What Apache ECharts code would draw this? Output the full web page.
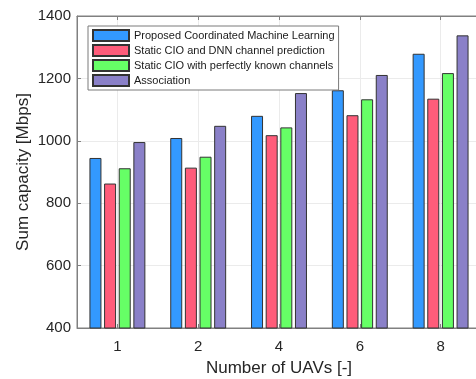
<!DOCTYPE html>
<html>
<head>
<meta charset="utf-8">
<script src="https://cdn.jsdelivr.net/npm/echarts@6/dist/echarts.min.js"></script>
<style>html,body{margin:0;padding:0;background:#fff;}#c{width:476px;height:379px;}</style>
</head>
<body>
<div id="c"></div>
<script>
const categories = ['1', '2', '4', '6', '8'];
const seriesNames = [
  'Proposed Coordinated Machine Learning',
  'Static CIO and DNN channel prediction',
  'Static CIO with perfectly known channels',
  'Association'
];
const proposed = [945, 1009, 1080, 1162, 1279];
const staticDNN = [863, 914, 1018, 1082, 1135];
const staticPerfect = [912, 949, 1043, 1133, 1217];
const association = [996, 1048, 1153, 1211, 1338];
const yTicks = [400, 600, 800, 1000, 1200, 1400];

const colors = ['#3399ff', '#ff5c7a', '#66ff66', '#8a80c8'];
const dataSets = [proposed, staticDNN, staticPerfect, association];
const FONT = '"Liberation Sans", Arial, Helvetica, sans-serif';
const chart = echarts.init(document.getElementById('c'));
chart.setOption({
  animation: false,
  textStyle: { fontFamily: FONT },
  grid: { left: 77, right: -5, top: 16, bottom: 51, containLabel: false, outerBoundsMode: 'none', show: true, borderColor: '#808080', borderWidth: 1, backgroundColor: 'transparent' },
  legend: {
    orient: 'vertical', left: 88, top: 26,
    itemWidth: 36, itemHeight: 11, itemGap: 2,
    padding: [3, 4, 3, 4],
    icon: 'rect',
    backgroundColor: '#fff', borderColor: '#7a7a7a', borderWidth: 1,
    textStyle: { fontSize: 11, lineHeight: 11, color: '#1a1a1a', fontFamily: FONT },
    data: seriesNames
  },
  xAxis: [{
    type: 'category', data: categories,
    name: 'Number of UAVs [-]', nameLocation: 'middle', nameGap: 32, nameMoveOverlap: false,
    nameTextStyle: { fontSize: 17, color: '#262626', fontFamily: FONT },
    axisLine: { lineStyle: { color: '#808080', width: 1 } },
    axisTick: { show: true, inside: true, length: 4, alignWithLabel: true, lineStyle: { color: '#808080' } },
    axisLabel: { fontSize: 15, color: '#262626', margin: 11, fontFamily: FONT },
    splitLine: { show: true, alignWithLabel: true, lineStyle: { color: '#ebebeb', width: 1 } }
  }, {
    type: 'category', data: categories, position: 'top',
    axisLine: { lineStyle: { color: '#808080', width: 1 } },
    axisTick: { show: true, inside: true, length: 4, alignWithLabel: true, lineStyle: { color: '#808080' } },
    axisLabel: { show: false }, splitLine: { show: false }
  }],
  yAxis: {
    type: 'value', min: yTicks[0], max: yTicks[yTicks.length - 1], interval: 200,
    name: 'Sum capacity [Mbps]', nameLocation: 'middle', nameGap: 45, nameMoveOverlap: false,
    nameTextStyle: { fontSize: 17, color: '#262626', fontFamily: FONT },
    axisLine: { show: true, lineStyle: { color: '#808080', width: 1 } },
    axisTick: { show: true, inside: true, length: 4, lineStyle: { color: '#808080' } },
    axisLabel: { fontSize: 15, color: '#262626', margin: 6, fontFamily: FONT, formatter: v => String(v) },
    splitLine: { show: true, lineStyle: { color: '#ebebeb', width: 1 } }
  },
  series: seriesNames.map((n, i) => ({
    name: n, type: 'bar', data: dataSets[i], xAxisIndex: 0,
    barWidth: 12, barGap: '22%',
    itemStyle: { color: colors[i], borderColor: '#333333', borderWidth: 1 }
  }))
});
</script>
</body>
</html>
